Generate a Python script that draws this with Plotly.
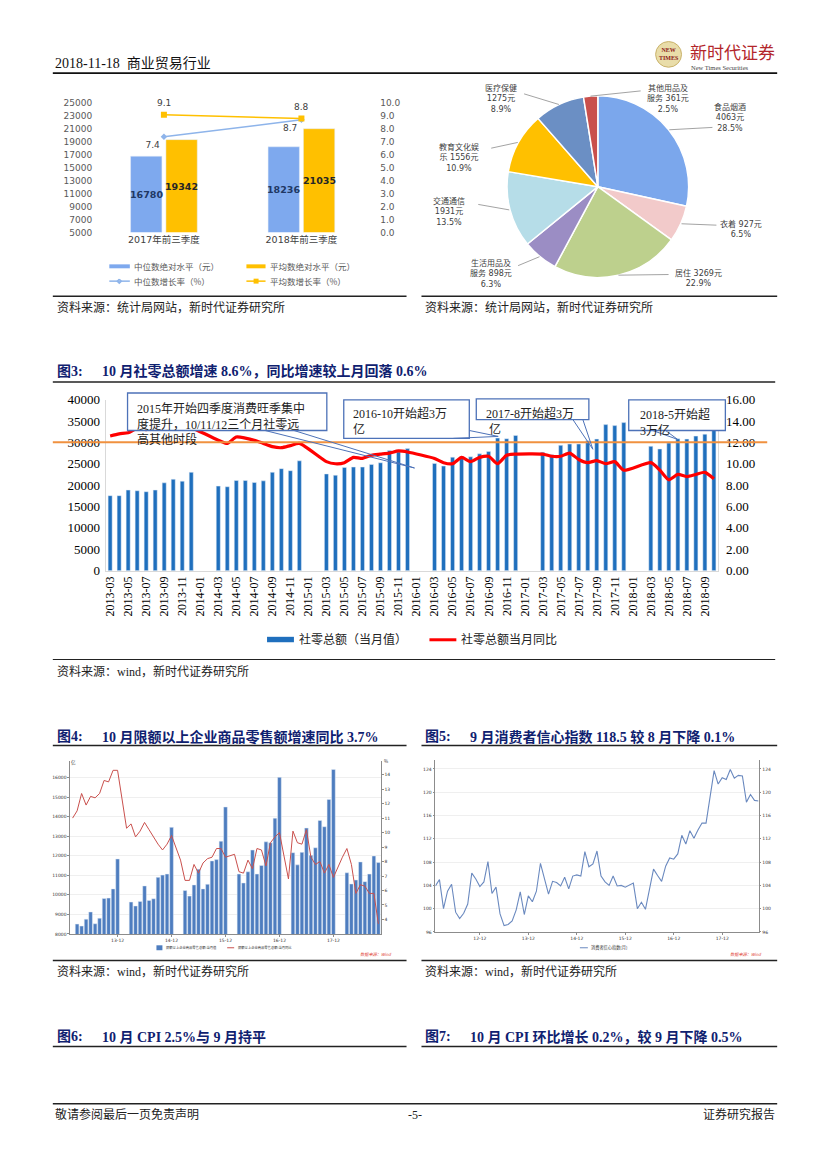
import math
import plotly.graph_objects as go

W, H = 827, 1169


def month_list(y0, m0, y1, m1):
    out = []
    y, m = y0, m0
    while (y, m) <= (y1, m1):
        out.append(f"{y}-{m:02d}")
        m += 1
        if m > 12:
            y, m = y + 1, 1
    return out


# ---------------- data ----------------
# Fig 1: disposable income (first three quarters)
f1_periods = ["2017年前三季度", "2018年前三季度"]
f1_median_level = [16780, 18236]
f1_mean_level = [19342, 21035]
f1_median_growth = [7.4, 8.7]
f1_mean_growth = [9.1, 8.8]
f1_names = ["中位数绝对水平（元）", "平均数绝对水平（元）", "中位数增长率（%）", "平均数增长率（%）"]

# Pie: consumption structure
pie_items = ["食品烟酒", "衣着", "居住", "生活用品及服务", "交通通信", "教育文化娱乐", "医疗保健", "其他用品及服务"]
pie_spend = [4063, 927, 3269, 898, 1931, 1556, 1275, 361]
pie_share = [28.5, 6.5, 22.9, 6.3, 13.5, 10.9, 8.9, 2.5]

# Fig 3: total retail sales (monthly, 2013-03 .. 2018-10)
f3_months = month_list(2013, 3, 2018, 10)
f3_retail_total = [
    17540, 17540, 18850, 18690, 18460, 18850, 20540, 21380, 20920, 23000,
    None, None, 19770, 19620, 21080, 21080, 20620, 21000, 23000, 23850, 23380, 25690,
    None, None, 22620, 22310, 24150, 24230, 24230, 24850, 25230, 28080, 27770, 28540,
    None, None, 25080, 24460, 26540, 26620, 26620, 27310, 27850, 31000, 30850, 31620,
    None, None, 27690, 27080, 29310, 29620, 29620, 30380, 30770, 34150, 33920, 34620,
    None, None, 29080, 28460, 29850, 30850, 30770, 31460, 31920, 35530,
]
f3_retail_yoy = [
    12.6, 12.8, 12.9, 13.3, 13.2, 13.4, 13.3, 13.3, 13.7, 13.4,
    None, None, 12.2, 11.9, 12.5, 12.4, 12.2, 11.9, 11.6, 11.5, 11.7, 11.9,
    None, None, 10.2, 10.0, 10.1, 10.6, 10.5, 10.8, 10.9, 11.0, 11.2, 11.1,
    None, None, 10.5, 10.1, 10.0, 10.6, 10.2, 10.6, 10.7, 10.0, 10.8, 10.9,
    None, None, 10.9, 10.7, 10.7, 11.0, 10.4, 10.1, 10.3, 10.0, 10.2, 9.4,
    None, None, 10.1, 9.4, 8.5, 9.0, 8.8, 9.0, 9.2, 8.6,
]
f3_threshold = 30000
f3_names = ["社零总额（当月值）", "社零总额当月同比"]
f3_ticks = f3_months[::2]

# Fig 4: retail sales of enterprises above designated size (2013-02 .. 2018-10)
f4_months = month_list(2013, 2, 2018, 10)
f4_sales = [
    None,
    8505, 8404, 8758, 9126, 8522, 8808, 9818, 9835, 10306, 11838,
    None, None, 9633, 9431, 9667, 10458, 9717, 9801, 10896, 11013, 11064, 13454,
    None, None, 10222, 9936, 10508, 11316, 10306, 10541, 11737, 11805, 12747, 14497,
    None, None, 11064, 10609, 11182, 12293, 11064, 11502, 12714, 12663, 13926, 16014,
    None, None, 12158, 11535, 12175, 13421, 12023, 12411, 13808, 13488, 14886, 16418,
    None, None, 11131, 10559, 10761, 11687, 10677, 11064, 11990, 11653,
]
f4_yoy = [
    11.0, 11.5, 12.7, 11.9, 12.5, 12.4, 12.7, 13.6, 13.5, 14.3, 14.3,
    None, 10.3, 10.6, 9.7, 10.1, 10.7, 10.2, 9.7, 9.2, 8.8, 9.2, 9.8,
    None, 8.1, 6.7, 6.7, 7.8, 7.2, 7.9, 8.2, 8.3, 8.9, 8.9, 8.3,
    None, 8.5, 7.3, 7.2, 8.1, 7.5, 8.9, 8.8, 7.7, 9.3, 9.7, 10.0,
    None, 6.8, 10.1, 9.3, 9.2, 10.2, 8.3, 7.8, 8.0, 7.2, 7.8, 6.9,
    None, 8.3, 8.9, 7.8, 5.8, 6.4, 6.3, 5.8, 5.8, 3.7,
]
f4_names = ["限额以上企业商品零售总额:当月值", "限额以上企业商品零售总额:当月同比"]
f4_ticks = [m for m in f4_months if m.endswith("-12")]
f4_ticktext = [m[2:] for m in f4_ticks]

# Fig 5: consumer confidence index (2012-01 .. 2018-09)
f5_months = month_list(2012, 1, 2018, 9)
f5_cci = [
    103.9, 105.0, 100.0, 103.0, 104.2, 99.4, 98.3, 99.2, 100.8, 106.1, 105.1, 103.8,
    104.6, 108.1, 102.6, 103.7, 99.1, 97.1, 97.3, 97.9, 99.8, 102.9, 99.0, 102.2,
    101.2, 103.0, 107.8, 105.2, 102.5, 104.7, 104.5, 103.9, 105.4, 103.4, 105.6, 105.8,
    105.6, 109.8, 107.2, 107.7, 109.9, 105.6, 104.6, 104.0, 105.6, 103.9, 104.0, 103.7,
    104.0, 104.4, 100.0, 101.1, 99.9, 103.2, 106.8, 105.7, 104.7, 107.3, 108.7, 108.5,
    109.4, 112.6, 111.1, 113.4, 112.1, 113.5, 114.7, 114.7, 119.0, 123.7, 121.4, 122.5,
    122.2, 123.9, 122.4, 122.9, 122.8, 118.3, 119.6, 118.6, 118.5,
]
f5_name = "消费者信心指数(月)"
f5_ticks = [m for m in f5_months if m.endswith("-12")]
f5_ticktext = [m[2:] for m in f5_ticks]


# ---------------- helpers ----------------
def X(p):
    return p / W


def Y(p):
    return 1 - p / H


shapes = []
annotations = []

SERIF = "Liberation Serif, Noto Sans CJK SC"
SANS = "Noto Sans CJK SC"
NAVY = "#0F2170"


def add_line(x0, y0, x1, y1, color="#000", width=1.0):
    shapes.append(dict(type="line", xref="paper", yref="paper", x0=X(x0), y0=Y(y0),
                       x1=X(x1), y1=Y(y1), line=dict(color=color, width=width), layer="above"))


def add_rect(x0, y0, x1, y1, fill, line_color=None, width=0):
    shapes.append(dict(type="rect", xref="paper", yref="paper", x0=X(x0), y0=Y(y1),
                       x1=X(x1), y1=Y(y0), fillcolor=fill,
                       line=dict(color=line_color or fill, width=width), layer="above"))


def add_path(points, color, width=1.0):
    d = "M " + " L ".join(f"{X(a):.5f},{Y(b):.5f}" for a, b in points)
    shapes.append(dict(type="path", xref="paper", yref="paper", path=d,
                       line=dict(color=color, width=width), layer="above"))


def add_text(x, y, text, size=12, color="#222", family=SANS, xanchor="left",
             yanchor="middle", align="left"):
    annotations.append(dict(x=X(x), y=Y(y), xref="paper", yref="paper", text=text,
                            showarrow=False, xanchor=xanchor, yanchor=yanchor, align=align,
                            font=dict(size=size, color=color, family=family)))


fig = go.Figure()

# ---------------- Fig 1 ----------------
F1_BLUE = "#7EA9EE"
F1_GOLD = "#FFC000"
fig.add_trace(go.Bar(x=f1_periods, y=f1_median_level, name=f1_names[0], marker_color=F1_BLUE,
                     xaxis="x", yaxis="y", offsetgroup="a"))
fig.add_trace(go.Bar(x=f1_periods, y=f1_mean_level, name=f1_names[1], marker_color=F1_GOLD,
                     xaxis="x", yaxis="y", offsetgroup="b"))
fig.add_trace(go.Scatter(x=f1_periods, y=f1_median_growth, name=f1_names[2], xaxis="x", yaxis="y2",
                         mode="lines+markers+text", text=[f"{v}" for v in f1_median_growth],
                         textposition="bottom left",
                         textfont=dict(family="DejaVu Sans", size=9, color="#404040"),
                         line=dict(color="#8EB4EA", width=1.5),
                         marker=dict(symbol="diamond", size=5, color="#8EB4EA")))
fig.add_trace(go.Scatter(x=f1_periods, y=f1_mean_growth, name=f1_names[3], xaxis="x", yaxis="y2",
                         mode="lines+markers", line=dict(color=F1_GOLD, width=1.5),
                         marker=dict(symbol="square", size=6, color=F1_GOLD)))
for i, cat in enumerate(f1_periods):
    annotations.append(dict(x=cat, y=f1_mean_growth[i], xref="x", yref="y2", yshift=12,
                            text=f"{f1_mean_growth[i]}", showarrow=False,
                            font=dict(family="DejaVu Sans", size=9, color="#404040")))
F1_MIN = 5000
for i, cat in enumerate(f1_periods):
    for vals, shift, col in ((f1_median_level, -17.7, "#1F3864"), (f1_mean_level, 17.7, "#262626")):
        annotations.append(dict(x=cat, y=(F1_MIN + vals[i]) / 2, xref="x", yref="y", xshift=shift,
                                text=f"<b>{vals[i]}</b>", showarrow=False,
                                font=dict(family="DejaVu Sans", size=9.5, color=col)))

# legend fig1
add_rect(106.7, 260.7, 127.3, 264.7, F1_BLUE)
add_text(129.5, 262.7, f1_names[0], 8.5, "#595959")
add_rect(244.3, 260.7, 263.5, 264.7, F1_GOLD)
add_text(266, 262.7, f1_names[1], 8.5, "#595959")
add_line(106.7, 277.7, 127.3, 277.7, "#8EB4EA", 1.5)
add_path([(116.7, 275.7), (118.7, 277.7), (116.7, 279.7), (114.7, 277.7), (116.7, 275.7)], "#8EB4EA", 1.5)
add_text(129.5, 277.7, f1_names[2], 8.5, "#595959")
add_line(244.3, 277.7, 263.5, 277.7, F1_GOLD, 1.5)
add_rect(251.5, 275.2, 256.5, 280.2, F1_GOLD)
add_text(266, 277.7, f1_names[3], 8.5, "#595959")

# ---------------- Pie ----------------
PIE_COLORS = ["#7BA7EC", "#F2CACA", "#BDD08D", "#9B8DC4", "#B6DDE8", "#FFC000", "#6B8FC4", "#C9504C"]
CX, CY, R = 597, 182, 92
fig.add_trace(go.Pie(labels=pie_items, values=pie_spend, sort=False, direction="clockwise", rotation=0,
                     textinfo="none", marker=dict(colors=PIE_COLORS, line=dict(color="white", width=1.5)),
                     domain=dict(x=[X(CX - R), X(CX + R)], y=[Y(CY + R), Y(CY - R)]),
                     showlegend=False, hoverinfo="label+value+percent"))
pie_wrapped = ["食品烟酒", "衣着", "居住", "生活用品及<br>服务", "交通通信", "教育文化娱<br>乐", "医疗保健", "其他用品及<br>服务"]
pie_sep = ["<br>", " ", " ", " ", "<br>", " ", "<br>", " "]
pie_label_pos = [(730, 112), (741, 225), (698, 275), (490, 270), (448, 207), (458, 152), (500, 93), (667, 93)]
pie_leader_end = [(712, 122), (716, 221), (668, 271), (517, 262), (477, 200), (490, 143), (523, 88), (640, 85)]
total = sum(pie_spend)
cum = 0
for i, v in enumerate(pie_spend):
    mid = (cum + v / 2) / total
    cum += v
    th = math.pi / 2 - 2 * math.pi * mid
    ax_, ay_ = CX + R * math.cos(th), CY - R * math.sin(th)
    add_line(ax_, ay_, pie_leader_end[i][0], pie_leader_end[i][1], "#8C8C8C", 0.8)
    txt = f"{pie_wrapped[i]}{pie_sep[i]}{pie_spend[i]}元<br>{pie_share[i]}%"
    add_text(pie_label_pos[i][0], pie_label_pos[i][1], txt, 8, "#404040",
             "DejaVu Sans, Noto Sans CJK SC", "center", "middle", "center")

# ---------------- Fig 3 ----------------
F3_BLUE = "#1F6FBD"
fig.add_trace(go.Bar(x=f3_months, y=f3_retail_total, name=f3_names[0], marker_color=F3_BLUE,
                     width=0.45, xaxis="x3", yaxis="y3"))
fig.add_trace(go.Scatter(x=f3_months, y=f3_retail_yoy, name=f3_names[1], xaxis="x3", yaxis="y4",
                         mode="lines", connectgaps=True,
                         line=dict(color="#FF0000", width=3.2, shape="spline", smoothing=0.6)))
shapes.append(dict(type="line", xref="paper", yref="y3", x0=X(50), x1=X(767), y0=f3_threshold,
                   y1=f3_threshold, line=dict(color="#F0913F", width=2), layer="above"))

BOX = "#4D72B8"
# callout boxes
add_rect(125, 391, 325, 429, "white", BOX, 1.3)
add_path([(263, 429), (413, 467), (292, 429)], BOX, 1.0)
add_rect(342, 398, 468, 437, "white", BOX, 1.3)
add_path([(452, 437), (497, 435), (468, 429)], BOX, 1.0)
add_rect(475, 397, 588, 418, "white", BOX, 1.3)
add_path([(572, 418), (592, 448), (582, 418)], BOX, 1.0)
add_rect(628, 398, 725, 429, "white", BOX, 1.3)
add_path([(652, 429), (677, 438), (665, 429)], BOX, 1.0)
add_text(132, 397, "2015年开始四季度消费旺季集中<br>度提升，10/11/12三个月社零远<br>高其他时段", 12, "#222", SERIF,
         "left", "top")
add_text(349, 402, "2016-10开始超3万<br>亿", 12, "#222", SERIF, "left", "top")
add_text(483, 402, "2017-8开始超3万<br> 亿", 12, "#222", SERIF, "left", "top")
add_text(637, 403, "2018-5开始超<br>3万亿", 12, "#222", SERIF, "left", "top")

# legend fig3
add_rect(265, 638, 292, 643.5, F3_BLUE)
add_text(295, 641, f3_names[0], 12, "#222", SERIF)
add_line(428, 641, 455, 641, "#FF0000", 3)
add_text(458, 641, f3_names[1], 12, "#222", SERIF)

# ---------------- Fig 4 ----------------
F4_BLUE = "#4E7DBF"
fig.add_trace(go.Bar(x=f4_months, y=f4_sales, name=f4_names[0], marker_color=F4_BLUE, width=0.82,
                     xaxis="x5", yaxis="y5"))
fig.add_trace(go.Scatter(x=f4_months, y=f4_yoy, name=f4_names[1], xaxis="x5", yaxis="y6", mode="lines",
                         connectgaps=True, line=dict(color="#C9504D", width=1)))
add_text(66, 765, "亿", 4.5, "#333", SANS, "left")
add_text(380, 764, "%", 4.5, "#333", SANS, "left")
add_rect(154, 950.5, 160, 955.5, F4_BLUE)
add_text(161.5, 953, f4_names[0], 3.3, "#333")
add_line(225, 953, 232, 953, "#C9504D", 1)
add_text(233.5, 953, f4_names[1], 3.3, "#333")
add_text(392, 959, "<i>数据来源：Wind</i>", 4.2, "#E03C31", SANS, "right")

# ---------------- Fig 5 ----------------
F5_LINE = "#6A89BF"
fig.add_trace(go.Scatter(x=f5_months, y=f5_cci, name=f5_name, xaxis="x7", yaxis="y7", mode="lines",
                         line=dict(color=F5_LINE, width=1.1)))
fig.add_trace(go.Scatter(x=f5_months, y=f5_cci, xaxis="x7", yaxis="y8", mode="lines", opacity=0,
                         hoverinfo="skip", line=dict(width=0.1)))
add_line(579, 953, 587, 953, F5_LINE, 1)
add_text(588.5, 953, f5_name, 4.2, "#333")
add_text(764, 959, "<i>数据来源：Wind</i>", 4.2, "#E03C31", SANS, "right")

# ---------------- page furniture ----------------
add_text(50, 57, "2018-11-18  商业贸易行业", 14, "#111", SERIF)
add_line(50, 67, 777, 67, "#111", 1.6)
shapes.append(dict(type="circle", xref="paper", yref="paper", x0=X(655), x1=X(681), y0=Y(61), y1=Y(35),
                   fillcolor="#E9DDA9", line=dict(color="#C9B26B", width=1), layer="above"))
add_text(668, 48, "<b>NEW<br>TIMES</b>", 6, "#8B1A1A", "Liberation Serif", "center", "middle", "center")
add_text(687, 45, "新时代证券", 17, "#B3262B", SANS)
add_text(688, 61, "New Times Securities", 6.5, "#444", "Liberation Serif")

add_line(50, 293, 405, 293, "#222", 1.5)
add_line(420, 293, 777, 293, "#222", 1.5)
add_text(52, 304, "资料来源：统计局网站，新时代证券研究所", 12, "#222", SERIF)
add_text(422, 304, "资料来源：统计局网站，新时代证券研究所", 12, "#222", SERIF)

add_text(52, 369, "<b>图3:</b>", 14, NAVY, SERIF)
add_text(97, 369, "<b>10 月社零总额增速 8.6%，同比增速较上月回落 0.6%</b>", 14, NAVY, SERIF)
add_line(50, 380, 775, 380, "#222", 1.5)
add_line(50, 661, 775, 661, "#222", 1.2)
add_text(52, 673, "资料来源：wind，新时代证券研究所", 12, "#222", SERIF)

add_text(52, 739, "<b>图4:</b>", 14, NAVY, SERIF)
add_text(97, 739, "<b>10 月限额以上企业商品零售额增速同比 3.7%</b>", 14, NAVY, SERIF)
add_line(50, 748, 405, 748, "#222", 1.5)
add_text(422, 739, "<b>图5:</b>", 14, NAVY, SERIF)
add_text(467, 739, "<b>9 月消费者信心指数 118.5 较 8 月下降 0.1%</b>", 14, NAVY, SERIF)
add_line(420, 748, 777, 748, "#222", 1.5)

add_line(50, 966, 405, 966, "#222", 1.5)
add_line(420, 966, 777, 966, "#222", 1.5)
add_text(52, 977, "资料来源：wind，新时代证券研究所", 12, "#222", SERIF)
add_text(422, 977, "资料来源：wind，新时代证券研究所", 12, "#222", SERIF)

add_text(52, 1043, "<b>图6:</b>", 14, NAVY, SERIF)
add_text(97, 1043, "<b>10 月 CPI 2.5%与 9 月持平</b>", 14, NAVY, SERIF)
add_line(50, 1053, 405, 1053, "#222", 1.5)
add_text(422, 1043, "<b>图7:</b>", 14, NAVY, SERIF)
add_text(467, 1043, "<b>10 月 CPI 环比增长 0.2%，较 9 月下降 0.5%</b>", 14, NAVY, SERIF)
add_line(420, 1053, 777, 1053, "#222", 1.5)

add_line(50, 1111, 777, 1111, "#222", 1.5)
add_text(50, 1122, "敬请参阅最后一页免责声明", 12, "#222", SERIF)
add_text(413, 1122, "-5-", 12, "#222", SERIF, "center")
add_text(777, 1122, "证券研究报告", 12, "#222", SERIF, "right")

# ---------------- layout ----------------
small_axis = dict(tickfont=dict(family="DejaVu Sans", size=4.5, color="#333"), showline=True,
                  linecolor="#8C8C8C", linewidth=0.8, ticks="outside", ticklen=2, tickcolor="#8C8C8C",
                  zeroline=False)
f1_tick = dict(family="DejaVu Sans", size=9, color="#595959")
f3_tick = dict(family="Liberation Serif", size=13, color="#000")

fig.update_layout(
    width=W, height=H, margin=dict(l=0, r=0, t=0, b=0, pad=0), autosize=False,
    paper_bgcolor="white", plot_bgcolor="white", showlegend=False, hovermode=False,
    font=dict(family=SANS, size=10, color="#333"),
    barmode="group", bargap=0.486, bargroupgap=0.113,
    xaxis=dict(domain=[X(92.5), X(368.5)], anchor="y", type="category", showline=False, ticks="",
               showgrid=False, zeroline=False,
               tickfont=dict(family="DejaVu Sans, Noto Sans CJK SC", size=9.5, color="#404040")),
    yaxis=dict(domain=[Y(228.3), Y(97.3)], anchor="x", range=[F1_MIN, 25000], tick0=F1_MIN, dtick=2000,
               tickformat="d", showgrid=False, zeroline=False, showline=False, tickfont=f1_tick,
               ticklabelstandoff=2),
    yaxis2=dict(overlaying="y", anchor="x", side="right", range=[0, 10], dtick=1, tickformat=".1f",
                showgrid=False, zeroline=False, showline=False, tickfont=f1_tick, ticklabelstandoff=9),
    xaxis3=dict(domain=[X(103), X(718)], anchor="y3", type="category", categoryorder="array",
                categoryarray=f3_months, range=[-0.5, len(f3_months) - 0.5], tickmode="array",
                tickvals=f3_ticks, ticktext=f3_ticks, tickangle=-90,
                tickfont=dict(family="Liberation Serif", size=12, color="#000"), showline=True,
                linecolor="#D9D9D9", ticks="", showgrid=False, zeroline=False),
    yaxis3=dict(domain=[Y(571), Y(397.7)], anchor="x3", range=[0, 40000], dtick=5000, tickformat="d",
                showgrid=False, zeroline=False, showline=True, linecolor="#D9D9D9", tickfont=f3_tick,
                ticklabelstandoff=2),
    yaxis4=dict(overlaying="y3", anchor="x3", side="right", range=[0, 16], dtick=2, tickformat=".2f",
                showgrid=False, zeroline=False, showline=True, linecolor="#D9D9D9", tickfont=f3_tick,
                ticklabelstandoff=4),
    xaxis5=dict(domain=[X(67.6), X(379)], anchor="y5", type="category", categoryorder="array",
                categoryarray=f4_months, range=[-0.5, len(f4_months) - 0.5], tickmode="array",
                tickvals=f4_ticks, ticktext=f4_ticktext, showgrid=False, **small_axis),
    yaxis5=dict(domain=[Y(939), Y(764)], anchor="x5", range=[8000, 16840], tick0=8000, dtick=1000,
                tickformat="d", showgrid=True, gridcolor="#EFEFEF", gridwidth=0.6, **small_axis),
    yaxis6=dict(overlaying="y5", anchor="x5", side="right", range=[3, 14.93], tickmode="array",
                tickvals=list(range(4, 15)), showgrid=False, **small_axis),
    xaxis7=dict(domain=[X(434), X(758.3)], anchor="y7", type="category", categoryorder="array",
                categoryarray=f5_months, range=[0, len(f5_months) - 1], tickmode="array",
                tickvals=f5_ticks, ticktext=f5_ticktext, showgrid=False, **small_axis),
    yaxis7=dict(domain=[Y(937), Y(763)], anchor="x7", range=[96, 125.5], tickmode="array",
                tickvals=list(range(96, 125, 4)), showgrid=True, gridcolor="#EFEFEF", gridwidth=0.6,
                **small_axis),
    yaxis8=dict(overlaying="y7", anchor="x7", side="right", range=[96, 125.5], tickmode="array",
                tickvals=list(range(96, 125, 4)), showgrid=False, **small_axis),
    shapes=shapes,
    annotations=annotations,
)

fig.write_html("out.html", config={"displayModeBar": False},
               post_script="document.body.style.margin='0px';document.body.style.overflow='hidden';")
